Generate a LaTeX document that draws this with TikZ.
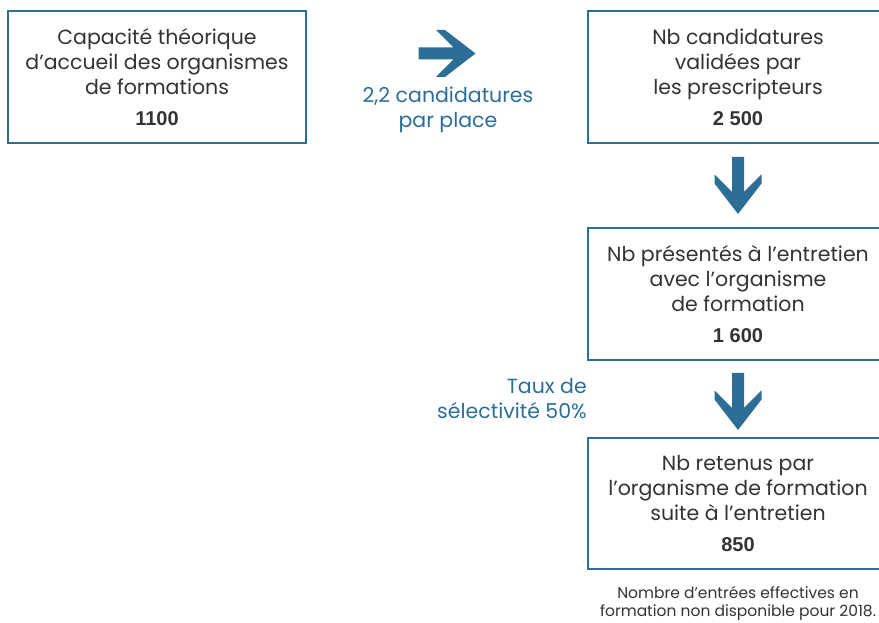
\documentclass[tikz,border=0pt]{standalone}
\usepackage{fontspec}
\setmainfont{Poppins}
\newfontfamily\numfont{Liberation Sans}
\usetikzlibrary{positioning,calc}
\definecolor{bleu}{HTML}{2C6E96}
\definecolor{texte}{HTML}{333333}
\tikzset{node distance=85pt, x=1pt, y=1pt,
  boite/.style={draw=bleu, line width=1.3pt, minimum width=300pt, minimum height=132pt,
    align=center, text=texte, font=\fontsize{20.5}{25}\selectfont, inner sep=0pt, outer sep=0pt},
  legende/.style={text=bleu, font=\fontsize{20.5}{25}\selectfont, align=center, inner sep=0pt},
  fleche/.pic={\fill[bleu] (-28.5,6) -- (6.5,6) -- (-11,23.5) -- (-2,23.5) -- (28.5,0)
    -- (-2,-23.5) -- (-11,-23.5) -- (6.5,-6) -- (-28.5,-6) -- cycle;}}
\newcommand{\chiffre}[1]{\\[6pt]{\numfont\bfseries\fontsize{20}{22}\selectfont #1}}

\begin{document}
\begin{tikzpicture}
\useasboundingbox (0,0) rectangle (879,623);
\clip (0,0) rectangle (879,623);

\node[boite, minimum width=298pt] (capacite) at (157,546)
  {Capacité théorique\\d’accueil des organismes\\de formations\chiffre{1100}};
\node[boite, right=282pt of capacite] (valides)
  {Nb candidatures\\validées par\\les prescripteurs\chiffre{2 500}};
\node[boite, below=85pt of valides] (presentes)
  {Nb présentés à l’entretien\\avec l’organisme\\de formation\chiffre{1 600}};
\node[boite, below=78pt of presentes, minimum height=131pt] (retenus)
  {Nb retenus par\\l’organisme de formation\\suite à l’entretien\chiffre{850}};

% fleches
\pic at ($(capacite.east)!0.5!(valides.west)+(0,23.5)$) {fleche};
\pic[rotate=-90] at ($(valides.south)!0.5!(presentes.north)$) {fleche};
\pic[rotate=-90] at ($(presentes.south)!0.5!(retenus.north)+(0,-2.5)$) {fleche};

% legendes
\node[legende] (ratio) at ($(capacite.east)!0.5!(valides.west)+(1,-33)$)
  {2,2 candidatures\\par place};
\node[legende, align=right, anchor=east] (taux)
  at ($(presentes.south west)!0.5!(retenus.north west)+(-1,0)$)
  {Taux de\\sélectivité 50\%};
\node[below=17pt of retenus, text=texte, align=center, inner sep=0pt,
  font=\fontsize{15.5}{18.5}\selectfont] (note)
  {Nombre d’entrées effectives en\\formation non disponible pour 2018.};
\end{tikzpicture}
\end{document}
